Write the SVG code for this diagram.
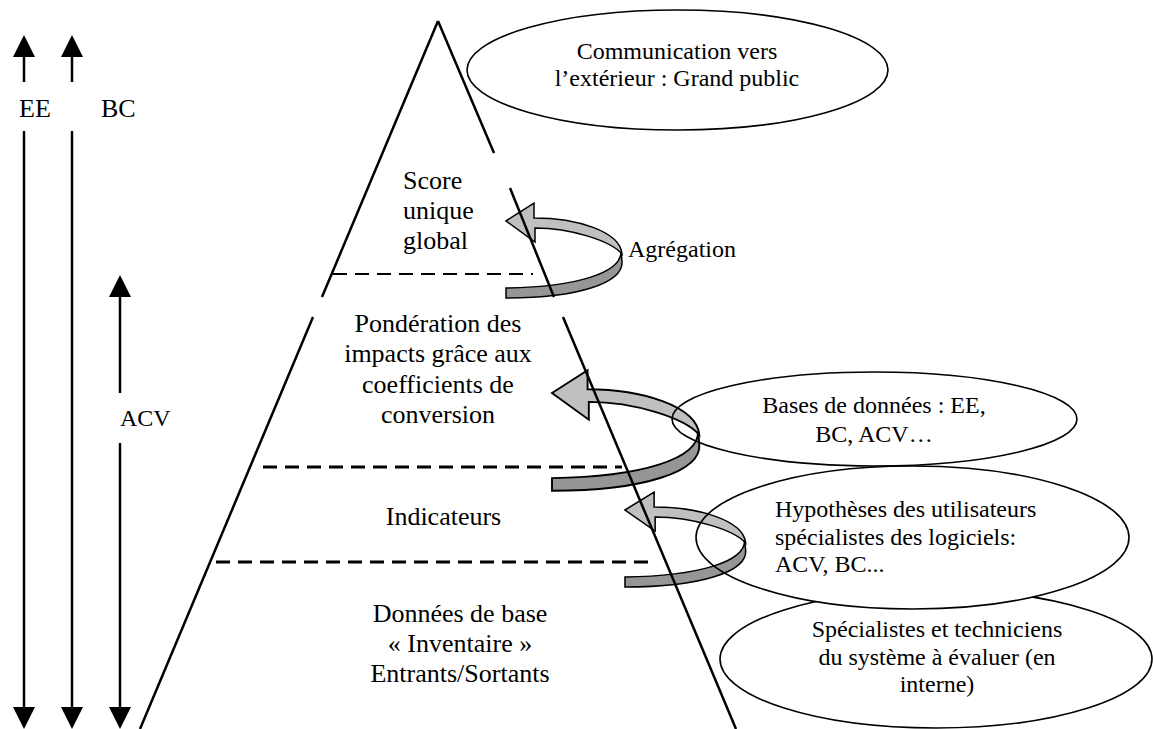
<svg xmlns="http://www.w3.org/2000/svg" width="1153" height="729" viewBox="0 0 1153 729">
<style>
 .t{font-family:"Liberation Serif","Times New Roman",serif;fill:#000}
 .big{font-size:26px}
 .mid{font-size:24px}
 .c{text-anchor:middle}
 .ln{stroke:#000;stroke-width:2.5;fill:none}
 .dash{stroke:#000;stroke-width:3;stroke-dasharray:14 8;fill:none}
 .dash1{stroke:#000;stroke-width:2.2;stroke-dasharray:14 8;fill:none}
 .ell{fill:none;stroke:#000;stroke-width:1.6}
 .light{fill:#c0c0c0;stroke:#000;stroke-width:1.5;stroke-linejoin:miter}
 .dark{fill:#969696;stroke:#000;stroke-width:1.5}
</style>
<defs>
 <marker id="ah" markerUnits="userSpaceOnUse" markerWidth="24" markerHeight="24" viewBox="0 -12 24 24" refX="0" refY="0" orient="auto">
  <path d="M0,-11 L22,0 L0,11 Z" fill="#000"/>
 </marker>
 <g id="ribbon">
  <path class="dark" d="M115,30 C116,52 70,66 0,67 L0,77 C72,77 118,62 116,40 Z"/>
  <path class="light" d="M0,0 L28,-18 L28,-3 C70,-3 114,10 116,33 C105,20 65,7 29,7 L29,21 Z"/>
 </g>
 <mask id="mHyp" maskUnits="userSpaceOnUse" x="0" y="0" width="1153" height="729">
  <rect x="0" y="0" width="1153" height="729" fill="#fff"/>
  <ellipse cx="912.5" cy="537.5" rx="216.5" ry="71.5" fill="#000"/>
 </mask>
</defs>

<g id="connectors">
 <line class="ln" x1="24" y1="82" x2="24" y2="57" marker-end="url(#ah)"/>
 <line class="ln" x1="24" y1="131" x2="24" y2="707" marker-end="url(#ah)"/>
 <line class="ln" x1="72" y1="82" x2="72" y2="57" marker-end="url(#ah)"/>
 <line class="ln" x1="72" y1="131" x2="72" y2="707" marker-end="url(#ah)"/>
 <line class="ln" x1="120" y1="393" x2="120" y2="297" marker-end="url(#ah)"/>
 <line class="ln" x1="120" y1="443" x2="120" y2="707" marker-end="url(#ah)"/>
 <use href="#ribbon" transform="translate(506,221)"/>
 <use href="#ribbon" transform="translate(552,393) scale(1.27)"/>
 <use href="#ribbon" transform="translate(625,510) scale(1.04,1)"/>
</g>

<g id="pyramid">
 <line class="ln" x1="438" y1="21" x2="322" y2="297"/>
 <line class="ln" x1="313" y1="317" x2="140" y2="729"/>
 <line class="ln" x1="438" y1="21" x2="494" y2="153"/>
 <line class="ln" x1="510" y1="188" x2="554" y2="297"/>
 <line class="ln" x1="563" y1="317" x2="736" y2="729"/>
 <line class="dash1" x1="333" y1="274" x2="533" y2="274"/>
 <line class="dash" x1="263" y1="467" x2="622" y2="467"/>
 <line class="dash" x1="216" y1="562" x2="653" y2="562"/>
</g>

<g id="label-ee"><text class="t big" x="19" y="117">EE</text></g>
<g id="label-bc"><text class="t big" x="101" y="117">BC</text></g>
<g id="label-acv"><text class="t mid" x="120" y="426">ACV</text></g>

<g id="score">
 <text class="t big" x="403" y="189">Score</text>
 <text class="t big" x="403" y="219">unique</text>
 <text class="t big" x="403" y="249">global</text>
</g>
<g id="agregation"><text class="t mid" x="628" y="257">Agrégation</text></g>
<g id="ponderation">
 <text class="t big c" x="438" y="332">Pondération des</text>
 <text class="t big c" x="438" y="362">impacts grâce aux</text>
 <text class="t big c" x="438" y="393">coefficients de</text>
 <text class="t big c" x="438" y="423">conversion</text>
</g>
<g id="indicateurs"><text class="t big c" x="443.5" y="525">Indicateurs</text></g>
<g id="donnees">
 <text class="t big c" x="460" y="622">Données de base</text>
 <text class="t big c" x="460" y="652">« Inventaire »</text>
 <text class="t big c" x="460" y="682">Entrants/Sortants</text>
</g>

<g id="communication">
 <ellipse class="ell" cx="677.5" cy="70" rx="210.5" ry="60"/>
 <text class="t mid c" x="677" y="59">Communication vers</text>
 <text class="t mid c" x="677" y="86">l’extérieur : Grand public</text>
</g>
<g id="bases">
 <ellipse class="ell" cx="874.5" cy="419" rx="202.5" ry="47"/>
 <text class="t mid c" x="874" y="413">Bases de données : EE,</text>
 <text class="t mid c" x="874" y="442">BC, ACV…</text>
</g>
<g id="specialistes">
 <ellipse class="ell" cx="936" cy="659" rx="216" ry="69" mask="url(#mHyp)"/>
 <text class="t mid c" x="937" y="637">Spécialistes et techniciens</text>
 <text class="t mid c" x="937" y="665">du système à évaluer (en</text>
 <text class="t mid c" x="937" y="692">interne)</text>
</g>
<g id="hypotheses">
 <ellipse class="ell" cx="912.5" cy="537.5" rx="216.5" ry="71.5"/>
 <text class="t mid" x="775" y="517">Hypothèses des utilisateurs</text>
 <text class="t mid" x="775" y="545">spécialistes des logiciels:</text>
 <text class="t mid" x="775" y="572">ACV, BC...</text>
</g>
</svg>
